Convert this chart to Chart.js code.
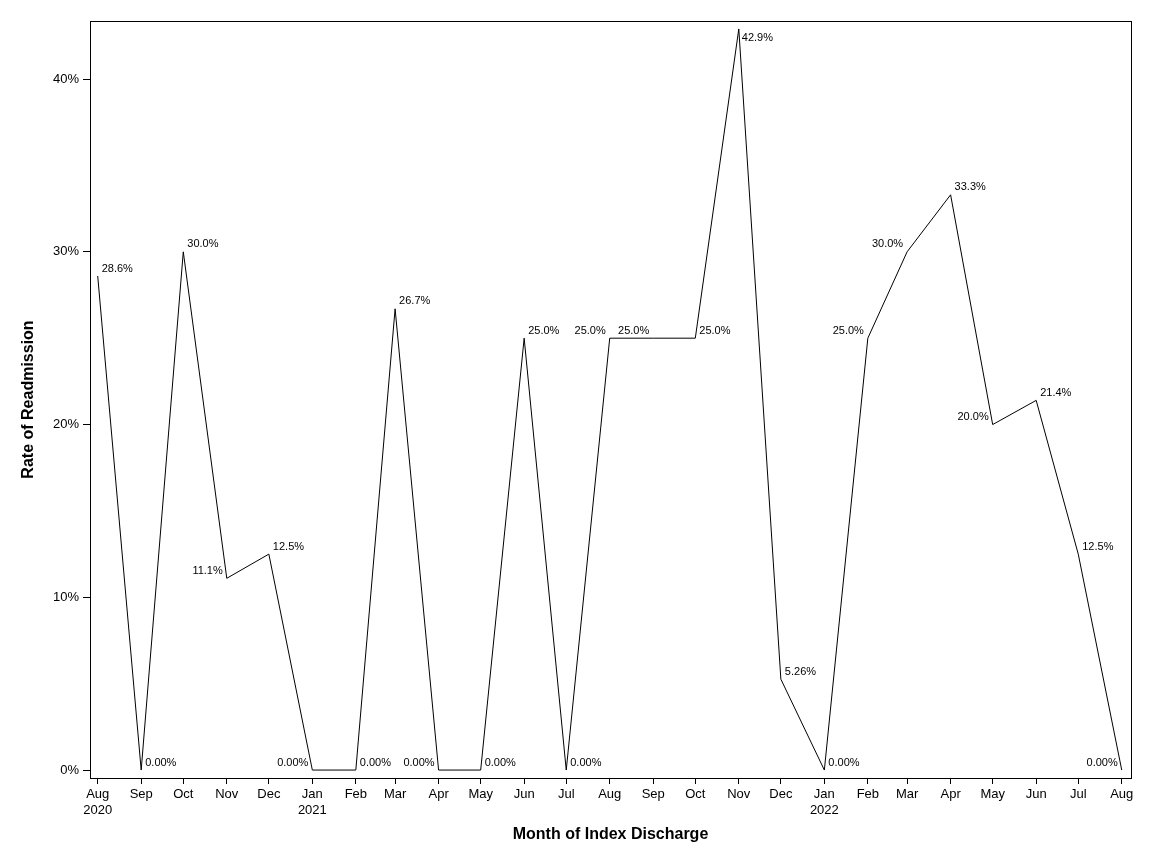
<!DOCTYPE html>
<html>
<head>
<meta charset="utf-8">
<title>Rate of Readmission</title>
<script src="https://cdn.jsdelivr.net/npm/chart.js@4.4.1/dist/chart.umd.min.js"></script>
<style>
  html, body { margin: 0; padding: 0; background: #fff; }
  #wrap { width: 1152px; height: 864px; }
</style>
</head>
<body>
<div id="wrap"><canvas id="myChart" width="1152" height="864"></canvas></div>
<script>
// data

const months = ['2020-08', '2020-09', '2020-10', '2020-11', '2020-12',
                '2021-01', '2021-02', '2021-03', '2021-04', '2021-05', '2021-06', '2021-07',
                '2021-08', '2021-09', '2021-10', '2021-11', '2021-12',
                '2022-01', '2022-02', '2022-03', '2022-04', '2022-05', '2022-06', '2022-07', '2022-08'];
const monthNames = ['Jan', 'Feb', 'Mar', 'Apr', 'May', 'Jun', 'Jul', 'Aug', 'Sep', 'Oct', 'Nov', 'Dec'];
const rates = [28.6, 0, 30.0, 11.1, 12.5,
               0, 0, 26.7, 0, 0, 25.0, 0,
               25.0, 25.0, 25.0, 42.9, 5.26,
               0, 25.0, 30.0, 33.3, 20.0, 21.4, 12.5, 0];
const yTicks = [0, 10, 20, 30, 40];

// where each point label sits: r = right, l = left, br = below right
const labelSide = ['r', 'r', 'r', 'l', 'r',
                   'l', 'r', 'r', 'l', 'r', 'r', 'r',
                   'l', 'l', 'r', 'br', 'r',
                   'r', 'l', 'l', 'r', 'l', 'r', 'r', 'l'];

// month -> days since first month (time axis without a date adapter)
const start = Date.UTC(2020, 7, 1);
const dayOf = (m) => {
    let [yy, mm] = m.split('-').map(Number);
    return (Date.UTC(yy, mm - 1, 1) - start) / 86400000;
};
const xDays = months.map(dayOf);
const points = xDays.map((d, i) => ({x: d, y: rates[i]}));

const tickLabel = (value) => {
    let i = xDays.indexOf(value);
    if (i < 0) return '';
    let [yy, mm] = months[i].split('-').map(Number);
    let name = monthNames[mm - 1];
    if (i === 0 || mm === 1) return [name, String(yy)];
    return name;
};

const fmt = (v) => v.toPrecision(3) + '%';

// plugins

const frame = {
    id: 'frame',
    afterDraw(chart) {
        const {ctx, chartArea: a} = chart;
        ctx.save();
        ctx.strokeStyle = '#000';
        ctx.lineWidth = 1;
        ctx.strokeRect(Math.round(a.left) + 0.5, Math.round(a.top) + 0.5,
                       Math.round(a.right - a.left), Math.round(a.bottom - a.top));
        ctx.restore();
    }
};

const pointLabels = {
    id: 'pointLabels',
    afterDatasetsDraw(chart) {
        const ctx = chart.ctx;
        const meta = chart.getDatasetMeta(0);
        ctx.save();
        ctx.font = '11px "Liberation Sans", Arial, sans-serif';
        ctx.fillStyle = '#000';
        ctx.textBaseline = 'middle';
        meta.data.forEach((pt, i) => {
            let side = labelSide[i];
            let txt = fmt(rates[i]);
            if (side === 'l') {
                ctx.textAlign = 'right';
                ctx.fillText(txt, pt.x - 4, pt.y - 7.5);
            } else if (side === 'br') {
                ctx.textAlign = 'left';
                ctx.fillText(txt, pt.x + 3, pt.y + 9);
            } else {
                ctx.textAlign = 'left';
                ctx.fillText(txt, pt.x + 4, pt.y - 7.5);
            }
        });
        ctx.restore();
    }
};

// chart

const ctx = document.getElementById('myChart').getContext('2d');
const myChart = new Chart(ctx, {
    type: 'line',
    data: {
        datasets: [{
            label: 'Rate of Readmission',
            data: points,
            borderColor: '#000',
            borderWidth: 1,
            pointRadius: 0,
            tension: 0,
            fill: false
        }]
    },
    options: {
        responsive: false,
        animation: false,
        layout: { padding: { top: 21, right: 21, left: 0, bottom: 0 } },
        plugins: {
            legend: { display: false },
            tooltip: { enabled: false }
        },
        scales: {
            x: {
                type: 'linear',
                min: -5.5,
                max: 736.6,
                afterBuildTicks: (scale) => { scale.ticks = xDays.map(v => ({value: v})); },
                afterFit: (scale) => { scale.height = 86; },
                grid: { drawOnChartArea: false, tickLength: 6, color: '#000', lineWidth: 1 },
                border: { display: true, color: '#000', width: 1 },
                ticks: {
                    autoSkip: false,
                    maxRotation: 0,
                    padding: 3,
                    color: '#000',
                    font: { family: '"Liberation Sans", Arial, sans-serif', size: 13, lineHeight: 1.2 },
                    callback: (value) => tickLabel(value)
                },
                title: {
                    display: true,
                    text: 'Month of Index Discharge',
                    color: '#000',
                    font: { family: '"Liberation Sans", Arial, sans-serif', size: 16, weight: 'bold', lineHeight: 1.2 },
                    padding: { top: 0, bottom: 20 }
                }
            },
            y: {
                min: -0.46,
                max: 43.36,
                afterBuildTicks: (scale) => { scale.ticks = yTicks.map(v => ({value: v})); },
                afterFit: (scale) => { scale.width = 90; },
                grid: { drawOnChartArea: false, tickLength: 7, color: '#000', lineWidth: 1 },
                border: { display: true, color: '#000', width: 1 },
                ticks: {
                    padding: 4,
                    color: '#000',
                    font: { family: '"Liberation Sans", Arial, sans-serif', size: 13 },
                    callback: (value) => value + '%'
                },
                title: {
                    display: true,
                    text: 'Rate of Readmission',
                    color: '#000',
                    font: { family: '"Liberation Sans", Arial, sans-serif', size: 16, weight: 'bold', lineHeight: 1.2 },
                    padding: { top: 19, bottom: 0 }
                }
            }
        }
    },
    plugins: [frame, pointLabels]
});
</script>
</body>
</html>
